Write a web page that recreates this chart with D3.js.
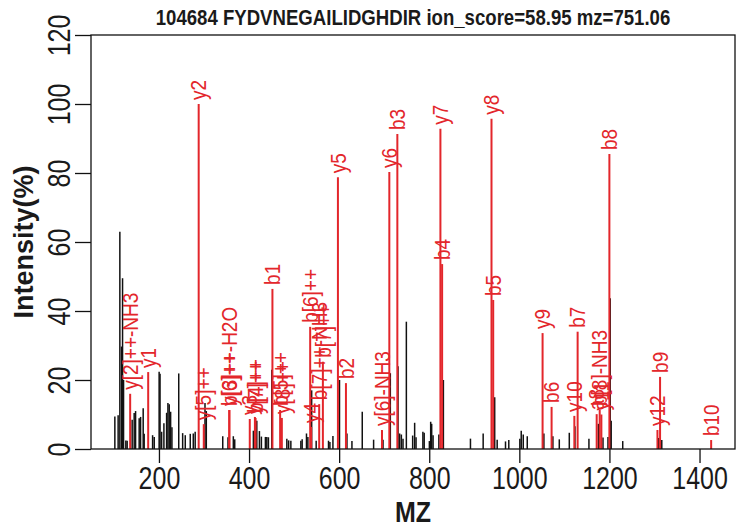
<!DOCTYPE html>
<html lang="en">
<head>
<meta charset="UTF-8">
<title>104684 FYDVNEGAILIDGHDIR</title>
<script src="https://d3js.org/d3.v7.min.js"></script>
<style>
  body { margin: 0; background: #fff; }
  svg { display: block; font-family: "Liberation Sans", Arial, Helvetica, sans-serif; }
  .axis path, .axis line { fill: none; stroke: #111; stroke-width: 1.3; }
  .axis text { fill: #1a1a1a; font-size: 25px; }
  .peak { stroke: #111; stroke-width: 1.5; }
  .ion { stroke: #e3262b; stroke-width: 2; }
  .ionlab { fill: #e3262b; font-size: 19px; }
</style>
</head>
<body>
<script>

var titleText = "104684 FYDVNEGAILIDGHDIR ion_score=58.95 mz=751.06";
var xTitle = "MZ";
var yTitle = "Intensity(%)";
var xTicks = [200, 400, 600, 800, 1000, 1200, 1400];
var yTicks = [0, 20, 40, 60, 80, 100, 120];

// unmatched peaks (black)
var peakMz = [102.1, 109.4, 113.2, 117.0, 119.2, 121.4, 126.5, 129.4, 140.5, 145.0,
  148.1, 156.1, 159.2, 165.0, 167.2, 185.9, 189.5, 200.4, 202.4, 205.9,
  211.0, 217.0, 219.9, 222.8, 225.9, 228.8, 243.9, 252.6, 258.4, 269.5,
  276.2, 280.4, 302.2, 305.1, 341.6, 353.3, 365.1, 368.2, 409.6, 417.2,
  423.0, 427.4, 436.3, 439.4, 443.0, 450.5, 483.9, 487.9, 492.8, 515.0,
  517.9, 527.5, 530.6, 539.0, 549.0, 576.4, 579.5, 586.2, 600.8, 617.3,
  628.4, 651.3, 676.5, 697.4, 713.6, 730.7, 734.3, 738.1, 741.8, 749.2,
  763.2, 767.6, 770.7, 785.9, 788.8, 800.3, 803.2, 805.4, 808.5, 821.4,
  831.4, 891.5, 919.7, 945.3, 950.8, 969.3, 976.6, 1001.1, 1004.2, 1008.7,
  1017.6, 1054.5, 1074.5, 1088.7, 1110.9, 1123.4, 1154.5, 1175.5, 1185.7, 1196.8,
  1201.7, 1203.9, 1229.5, 1308.9, 1316.2];
var peakInt = [9.4, 9.8, 63, 29.7, 49.5, 20, 2.5, 2.4, 8.5, 10.4,
  11, 8.9, 9.3, 11.8, 4.4, 4, 3.5, 22.4, 21.8, 5,
  7.5, 10.5, 13.3, 13, 10.8, 6.3, 21.9, 4.6, 4, 4.4,
  4.5, 5, 13.3, 11, 3.7, 3.4, 3.7, 2.8, 5.3, 8.2,
  5.2, 3.6, 3.5, 3.5, 3.4, 23, 3, 2.5, 2.4, 2.4,
  2.8, 4.5, 3.5, 17, 2.4, 2.4, 2, 3.8, 20, 4.5,
  2.3, 10.8, 2.7, 2.7, 22, 24, 4.5, 4.2, 3, 36.9,
  3.9, 7.6, 3.4, 5, 4.7, 2.3, 7.9, 7.3, 4, 4.2,
  20, 3, 4.5, 15, 2.7, 2.2, 2.6, 3, 5.3, 4.2,
  3.7, 4.5, 3.7, 2.8, 4.7, 6.6, 3, 7.3, 3.3, 3.5,
  43.7, 8.2, 2.3, 3.2, 2.6];

// matched fragment ions (red)
var ionMz = [136.1, 176.1, 288.2, 299.5, 356.2, 356.2, 401.6, 413.0, 414.5, 451.9,
  469.0, 472.8, 535.7, 537.9, 555.7, 563.9, 597.3, 615.1, 695.1, 711.4,
  729.2, 824.8, 828.6, 938.2, 942.0, 1051.6, 1071.6, 1122.1, 1129.4, 1171.7,
  1178.4, 1182.1, 1199.9, 1306.6, 1312.4, 1425.8];
var ionInt = [16, 22.3, 100, 7.2, 11.3, 11.3, 8.7, 9.3, 9.0, 46.4,
  11.3, 9, 35.4, 6.4, 13, 25.3, 78.8, 19.1, 5.5, 80.3,
  91.3, 92.8, 53.6, 95.7, 43.2, 33.6, 12.2, 9.6, 34, 10.1,
  11.3, 10, 85.5, 5.5, 20.9, 2.6];
var ionLabel = ["y[2]++-NH3", "y1", "y2", "y[5]++", "y[6]++", "b[3]++-H2O", "y3", "b[4]++", "y[7]++", "b1",
  "b[5]++", "y[8]++", "b[6]++", "y4", "b[7]++-NH3", "b[7]++", "y5", "b2", "y[6]-NH3", "y6",
  "b3", "y7", "b4", "y8", "b5", "y9", "b6", "y10", "b7", "a8",
  "b[8]-NH3", "y11", "b8", "y12", "b9", "b10"];

var margin = {top: 35, right: 10, bottom: 80, left: 91},
    width = 745 - margin.left - margin.right,
    height = 529 - margin.top - margin.bottom;

// the original glyphs are tall and narrow
var tall = 1.28;

var peaks = peakMz.map(function(m, i) { return {mz: m, v: peakInt[i]}; });
var ions = ionMz.map(function(m, i) { return {mz: m, v: ionInt[i], label: ionLabel[i]}; });

// R style: data range padded by 4% on each side
var allMz = peakMz.concat(ionMz);
var lo = d3.min(allMz), hi = d3.max(allMz), pad = (hi - lo) * 0.04;

var x = d3.scaleLinear().domain([lo - pad, hi + pad]).range([0, width]);
var y = d3.scaleLinear().domain([0, 120]).range([height, 0]);

var svg = d3.select("body").append("svg")
    .attr("width", width + margin.left + margin.right)
    .attr("height", height + margin.top + margin.bottom);

var g = svg.append("g")
    .attr("transform", "translate(" + margin.left + "," + margin.top + ")");

g.selectAll(".peak")
    .data(peaks)
    .enter().append("line")
    .attr("class", "peak")
    .attr("x1", function(d) { return x(d.mz); })
    .attr("x2", function(d) { return x(d.mz); })
    .attr("y1", y(0))
    .attr("y2", function(d) { return y(d.v); });

g.selectAll(".ion")
    .data(ions)
    .enter().append("line")
    .attr("class", "ion")
    .attr("x1", function(d) { return x(d.mz); })
    .attr("x2", function(d) { return x(d.mz); })
    .attr("y1", y(0))
    .attr("y2", function(d) { return y(d.v); });

g.selectAll(".ionlab")
    .data(ions)
    .enter().append("text")
    .attr("class", "ionlab")
    .attr("transform", function(d) {
        return "translate(" + x(d.mz) + "," + (y(d.v) - 4) + ") scale(1.12,1) rotate(-90)";
    })
    .attr("dy", "0.36em")
    .text(function(d) { return d.label; });

g.append("rect")
    .attr("width", width)
    .attr("height", height)
    .attr("fill", "none")
    .attr("stroke", "#111")
    .attr("stroke-width", 1.3);

var xAxis = d3.axisBottom(x).tickValues(xTicks).tickFormat(d3.format("d"))
    .tickSize(14).tickSizeOuter(0);
var yAxis = d3.axisLeft(y).tickValues(yTicks).tickSize(16).tickSizeOuter(0);

g.append("g")
    .attr("class", "x axis")
    .attr("transform", "translate(0," + height + ")")
    .call(xAxis)
    .call(function(s) { s.select(".domain").remove(); })
    .selectAll("text")
        .attr("y", 40 / tall)
        .attr("dy", null)
        .attr("transform", "scale(1," + tall + ")");

g.append("g")
    .attr("class", "y axis")
    .call(yAxis)
    .call(function(s) { s.select(".domain").remove(); })
    .selectAll("text")
        .attr("x", null)
        .attr("dy", null)
        .attr("text-anchor", "middle")
        .attr("transform", "translate(-21,0) scale(" + tall + ",1) rotate(-90)");

g.append("text")
    .attr("transform", "translate(" + (width / 2) + ",-10) scale(1,1.22)")
    .attr("text-anchor", "middle")
    .style("font-weight", "bold")
    .style("font-size", "18.6px")
    .style("fill", "#1a1a1a")
    .text(titleText);

g.append("text")
    .attr("transform", "translate(" + (width / 2) + "," + (height + 73) + ") scale(1,1.2)")
    .attr("text-anchor", "middle")
    .style("font-weight", "bold")
    .style("font-size", "25px")
    .style("fill", "#1a1a1a")
    .text(xTitle);

g.append("text")
    .attr("transform", "translate(" + (-58) + "," + (height / 2) + ") rotate(-90)")
    .attr("text-anchor", "middle")
    .style("font-weight", "bold")
    .style("font-size", "27px")
    .style("fill", "#1a1a1a")
    .text(yTitle);

</script>
</body>
</html>
